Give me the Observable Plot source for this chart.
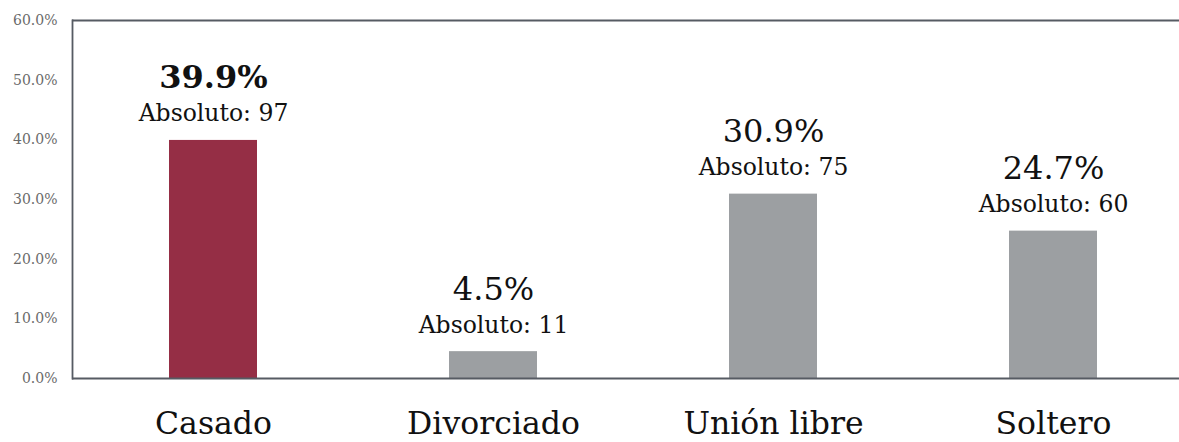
<!DOCTYPE html>
<html>
<head>
<meta charset="utf-8">
<script src="https://cdn.jsdelivr.net/npm/d3@7"></script>
<script src="https://cdn.jsdelivr.net/npm/@observablehq/plot@0.6"></script>
<style>
  html, body { margin: 0; padding: 0; background: #fff; }
  #chart svg { display: block; font-family: "DejaVu Serif", serif; }
</style>
</head>
<body>
<div id="chart"></div>
<script>
const categories = ["Casado", "Divorciado", "Unión libre", "Soltero"];
const percents = [39.9, 4.5, 30.9, 24.7];
const absolutes = [97, 11, 75, 60];
const yTicks = [0, 10, 20, 30, 40, 50, 60];

const data = categories.map((c, i) => ({cat: c, pct: percents[i], abs: absolutes[i]}));
const maxPct = d3.max(percents);

const chart = Plot.plot({
  width: 1179,
  height: 442,
  marginLeft: 72,
  marginRight: 0,
  marginTop: 20,
  marginBottom: 64,
  style: {fontFamily: "DejaVu Serif, serif", background: "#fff"},
  x: {domain: categories, range: [73, 1193], padding: 0, label: null},
  y: {domain: [0, 60], label: null},
  marks: [
    Plot.barY(data, {
      x: "cat", y: "pct",
      fill: d => d.pct === maxPct ? "#952e45" : "#9c9fa2",
      insetLeft: 96, insetRight: 96
    }),
    Plot.ruleY([0, 60], {stroke: "#565b63", strokeWidth: 1.8}),
    Plot.frame({anchor: "left", stroke: "#565b63", strokeWidth: 1.8}),
    Plot.axisY({
      ticks: yTicks, tickSize: 0, tickPadding: 15, fontSize: 14,
      fill: "#6a6a6a", tickFormat: d => d.toFixed(1) + "%", label: null
    }),
    Plot.axisX({
      tickSize: 0, tickPadding: 33, fontSize: 31.5, fill: "#111", label: null
    }),
    Plot.text(data.filter(d => d.pct === maxPct), {
      x: "cat", y: "pct", text: d => d.pct.toFixed(1) + "%",
      lineAnchor: "bottom", dy: -52, fontSize: 32, fontWeight: "bold", fill: "#111"
    }),
    Plot.text(data.filter(d => d.pct !== maxPct), {
      x: "cat", y: "pct", text: d => d.pct.toFixed(1) + "%",
      lineAnchor: "bottom", dy: -52, fontSize: 32, fill: "#111"
    }),
    Plot.text(data, {
      x: "cat", y: "pct", text: d => "Absoluto: " + d.abs,
      lineAnchor: "bottom", dy: -19, fontSize: 23.5, fill: "#111"
    })
  ]
});
document.getElementById("chart").appendChild(chart);
</script>
</body>
</html>
